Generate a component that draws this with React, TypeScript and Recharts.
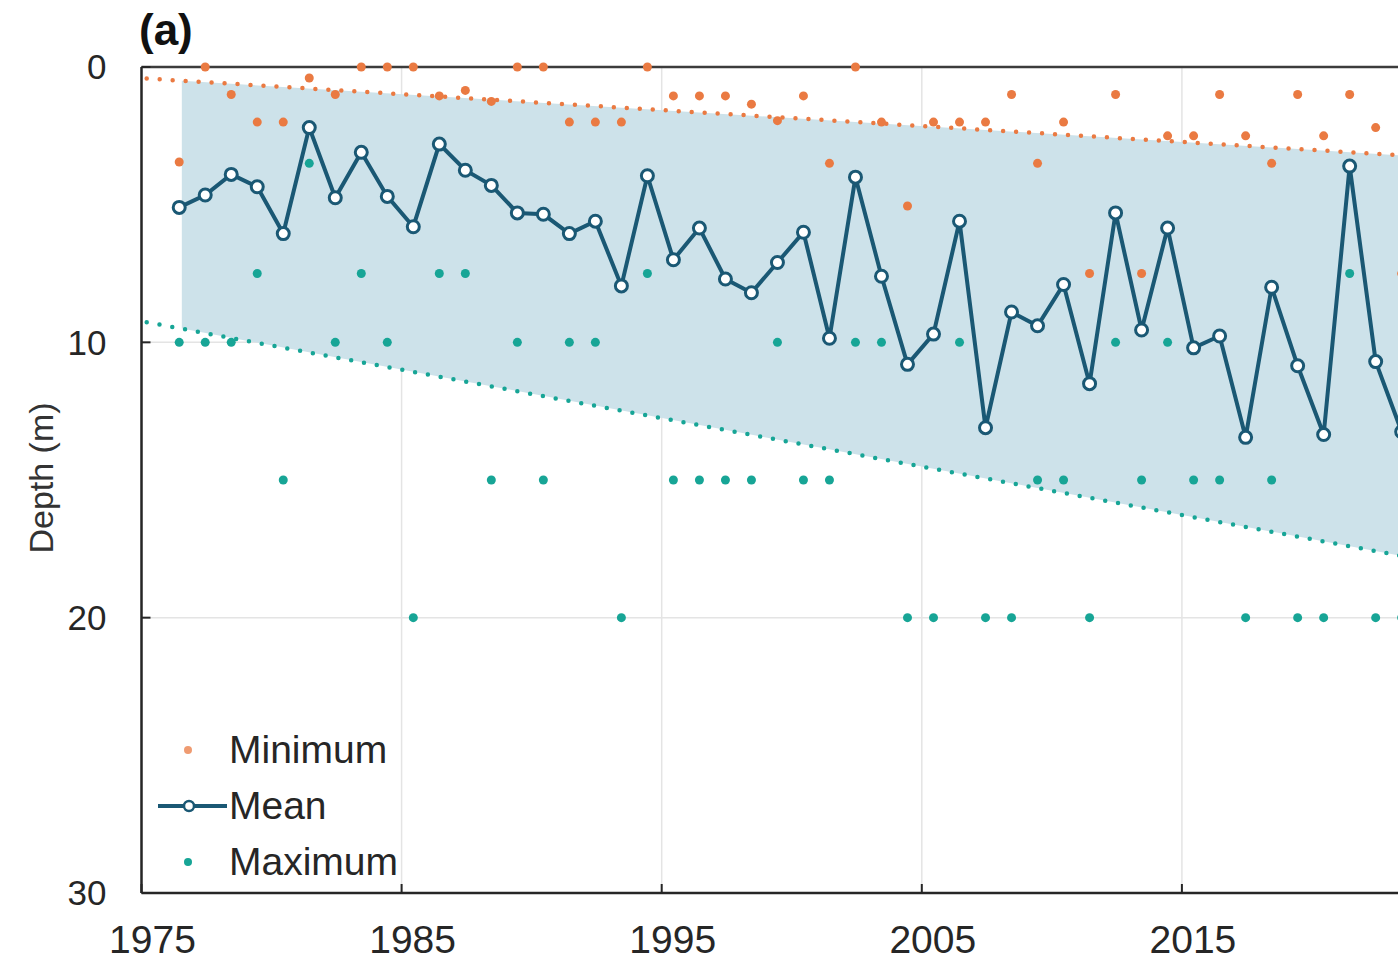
import React from "react";
import {
  Area,
  CartesianGrid,
  ComposedChart,
  Line,
  ReferenceLine,
  Scatter,
  XAxis,
  YAxis
} from "recharts";

const ORANGE = "#ea7a42";
const TEAL = "#17a596";
const MEAN = "#1a5874";
const BAND = "#cde2ea";
const TEXT = "#262626";
const FONT = '"Liberation Sans", Arial, sans-serif';

const years = [
  1976, 1977, 1978, 1979, 1980, 1981, 1982, 1983, 1984, 1985, 1986, 1987, 1988, 1989, 1990, 1991,
  1992, 1993, 1994, 1995, 1996, 1997, 1998, 1999, 2000, 2001, 2002, 2003, 2004, 2005, 2006, 2007,
  2008, 2009, 2010, 2011, 2012, 2013, 2014, 2015, 2016, 2017, 2018, 2019, 2020, 2021, 2022, 2023
];

const meanDepth = [
  5.1, 4.65, 3.9, 4.35, 6.05, 2.2, 4.75, 3.1, 4.7, 5.8, 2.8, 3.75, 4.3, 5.3, 5.35, 6.05,
  5.6, 7.95, 3.95, 7.0, 5.85, 7.7, 8.2, 7.1, 6.0, 9.85, 4.0, 7.6, 10.8, 9.7, 5.6, 13.1,
  8.9, 9.4, 7.9, 11.5, 5.3, 9.55, 5.85, 10.2, 9.77, 13.45, 8.0, 10.85, 13.35, 3.6, 10.7, 13.25
];

const minDepth = [
  3.45, 0, 1.0, 2.0, 2.0, 0.4, 1.0, 0, 0, 0, 1.05, 0.85, 1.25, 0, 0, 2.0,
  2.0, 2.0, 0, 1.05, 1.05, 1.05, 1.35, 1.95, 1.05, 3.5, 0, 2.0, 5.05, 2.0, 2.0, 2.0,
  1.0, 3.5, 2.0, 7.5, 1.0, 7.5, 2.5, 2.5, 1.0, 2.5, 3.5, 1.0, 2.5, 1.0, 2.2, 7.5
];

const maxDepth = [
  10, 10, 10, 7.5, 15, 3.5, 10, 7.5, 10, 20, 7.5, 7.5, 15, 10, 15, 10,
  10, 20, 7.5, 15, 15, 15, 15, 10, 15, 15, 10, 10, 20, 20, 10, 20,
  20, 15, 15, 20, 10, 15, 10, 15, 15, 20, 15, 20, 20, 7.5, 20, 20
];

// fitted trend lines, read at their two ends
const trendYears = [1975.2, 2025];
const minTrend = [0.42, 3.3];
const maxTrend = [9.27, 18.03];

// shaded envelope between the trends
const bandYears = [1976.55, 2025];
const bandTop = [0.5, 3.3];
const bandBottom = [9.5, 18.03];

const xTicks = [1975, 1985, 1995, 2005, 2015];
const yTicks = [0, 10, 20, 30];

// samples sit a little after the start of each year
const toRows = (values: number[]) => years.map((y, i) => ({ x: y + 0.45, v: values[i] }));

const meanRows = toRows(meanDepth);
const minRows = toRows(minDepth);
const maxRows = toRows(maxDepth);
const minTrendRows = trendYears.map((x, i) => ({ x, v: minTrend[i] }));
const maxTrendRows = trendYears.map((x, i) => ({ x, v: maxTrend[i] }));
const bandRows = bandYears.map((x, i) => ({ x, band: [bandTop[i], bandBottom[i]] }));

const dotShape = (color: string) => (props: any) =>
  <circle cx={props.cx} cy={props.cy} r={4.5} fill={color} />;

function LegendBox() {
  const row: React.CSSProperties = { display: "flex", alignItems: "center", height: 56 };
  const label: React.CSSProperties = { fontFamily: FONT, fontSize: 39, color: TEXT, marginLeft: 1 };
  return (
    <div style={{ position: "absolute", left: 150, top: 722 }}>
      <div style={row}>
        <svg width={78} height={20}><circle cx={38} cy={10} r={4} fill={ORANGE} opacity={0.75} /></svg>
        <span style={label}>Minimum</span>
      </div>
      <div style={row}>
        <svg width={78} height={20}>
          <line x1={8} y1={10} x2={77} y2={10} stroke={MEAN} strokeWidth={4} />
          <circle cx={39} cy={10} r={5} fill="#fff" stroke={MEAN} strokeWidth={2.5} />
        </svg>
        <span style={label}>Mean</span>
      </div>
      <div style={row}>
        <svg width={78} height={20}><circle cx={38} cy={10} r={4} fill={TEAL} /></svg>
        <span style={label}>Maximum</span>
      </div>
    </div>
  );
}

export default function App() {
  return (
    <div
      style={{
        position: "fixed",
        left: 0,
        top: 0,
        width: 1398,
        height: 960,
        overflow: "hidden",
        background: "#fff"
      }}
    >
      <div
        style={{
          position: "absolute",
          left: 139,
          top: 5,
          fontFamily: FONT,
          fontWeight: 700,
          fontSize: 44,
          color: "#111"
        }}
      >
        (a)
      </div>
      <ComposedChart
        width={1452}
        height={960}
        data={bandRows}
        margin={{ top: 67, right: 10, bottom: 0, left: 0 }}
      >
        <Area
          dataKey="band"
          type="linear"
          fill={BAND}
          fillOpacity={1}
          stroke="none"
          isAnimationActive={false}
        />
        <CartesianGrid stroke="#e4e4e4" strokeWidth={1.5} />
        <XAxis
          dataKey="x"
          type="number"
          domain={[1975, 2025]}
          ticks={xTicks}
          height={67}
          tickSize={-9}
          tickMargin={41}
          axisLine={{ stroke: TEXT, strokeWidth: 2.5 }}
          tickLine={{ stroke: TEXT, strokeWidth: 2 }}
          tick={{ fill: TEXT, fontSize: 39, fontFamily: FONT, dx: 11 }}
        />
        <YAxis
          type="number"
          domain={[0, 30]}
          reversed
          ticks={yTicks}
          width={141.5}
          tickSize={-9}
          tickMargin={44}
          axisLine={{ stroke: TEXT, strokeWidth: 2.5 }}
          tickLine={{ stroke: TEXT, strokeWidth: 2 }}
          tick={{ fill: TEXT, fontSize: 35, fontFamily: FONT }}
          label={{
            content: ({ viewBox }: any) => {
              const cy = viewBox.y + viewBox.height / 2 - 2;
              return (
                <text
                  x={41}
                  y={cy}
                  transform={`rotate(-90, 41, ${cy})`}
                  textAnchor="middle"
                  dominantBaseline="central"
                  fontFamily={FONT}
                  fontSize={34}
                  fill="#333"
                >
                  Depth (m)
                </text>
              );
            }
          }}
        />
        <ReferenceLine y={0} stroke="#3c3c3c" strokeWidth={2.5} />
        <Line
          data={minTrendRows}
          dataKey="v"
          type="linear"
          stroke={ORANGE}
          strokeWidth={4.5}
          strokeDasharray="0 13"
          strokeLinecap="round"
          dot={false}
          activeDot={false}
          isAnimationActive={false}
        />
        <Line
          data={maxTrendRows}
          dataKey="v"
          type="linear"
          stroke={TEAL}
          strokeWidth={4.5}
          strokeDasharray="0 13"
          strokeLinecap="round"
          dot={false}
          activeDot={false}
          isAnimationActive={false}
        />
        <Scatter data={minRows} dataKey="v" shape={dotShape(ORANGE)} isAnimationActive={false} />
        <Scatter data={maxRows} dataKey="v" shape={dotShape(TEAL)} isAnimationActive={false} />
        <Line
          data={meanRows}
          dataKey="v"
          type="linear"
          stroke={MEAN}
          strokeWidth={4}
          dot={{ r: 6, fill: "#fff", stroke: MEAN, strokeWidth: 3 }}
          activeDot={false}
          isAnimationActive={false}
        />
      </ComposedChart>
      <LegendBox />
    </div>
  );
}
